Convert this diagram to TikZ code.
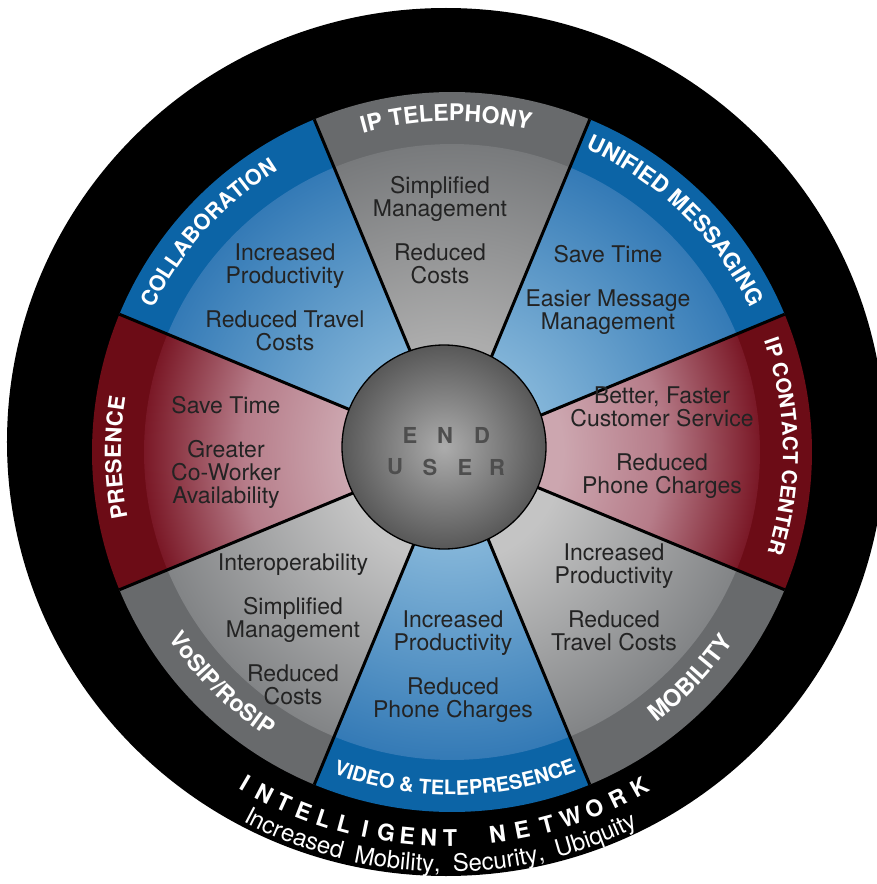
\documentclass[tikz,border=0pt]{standalone}
\usepackage{fontspec}
\setmainfont{TeX Gyre Heros}
\newfontfamily\ringfont[LetterSpace=24]{TeX Gyre Heros}
\usetikzlibrary{decorations.text}

\definecolor{blueband}{RGB}{12,100,166}
\definecolor{blueA}{RGB}{130,180,216}
\definecolor{blueB}{RGB}{52,122,182}
\definecolor{redband}{RGB}{108,12,22}
\definecolor{redA}{RGB}{204,166,175}
\definecolor{redM}{RGB}{182,124,137}
\definecolor{redB}{RGB}{122,24,38}
\definecolor{grayband}{RGB}{104,106,108}
\definecolor{grayA}{RGB}{196,196,196}
\definecolor{grayB}{RGB}{130,132,134}
\definecolor{grayAt}{RGB}{172,172,172}
\definecolor{grayBt}{RGB}{120,122,124}
\definecolor{sphA}{RGB}{172,172,172}
\definecolor{sphB}{RGB}{88,88,88}
\definecolor{bodytext}{RGB}{35,35,35}
\definecolor{endtext}{RGB}{78,78,78}

\pgfdeclareradialshading{blueshade}{\pgfpoint{0bp}{0bp}}{color(0bp)=(blueA); color(8bp)=(blueA); color(25bp)=(blueB); color(50bp)=(blueB)}
\pgfdeclareradialshading{redshade}{\pgfpoint{0bp}{0bp}}{color(0bp)=(redA); color(9bp)=(redA); color(17bp)=(redM); color(25bp)=(redB); color(50bp)=(redB)}
\pgfdeclareradialshading{grayshade}{\pgfpoint{0bp}{0bp}}{color(0bp)=(grayA); color(9bp)=(grayA); color(25bp)=(grayB); color(50bp)=(grayB)}
\pgfdeclareradialshading{grayshadet}{\pgfpoint{0bp}{0bp}}{color(0bp)=(grayAt); color(9bp)=(grayAt); color(25bp)=(grayBt); color(50bp)=(grayBt)}
\pgfdeclareradialshading{sphshade}{\pgfpoint{0bp}{0bp}}{color(0bp)=(sphA); color(25bp)=(sphB); color(50bp)=(sphB)}

\newcommand\lblf[1]{\fontsize{#1}{#1}\selectfont\bfseries}
\newcommand\bodyfnt{\fontsize{23}{23}\selectfont}

\begin{document}
\begin{tikzpicture}[x=1pt,y=1pt,
  body/.style={font=\bodyfnt, align=center, text=bodytext, inner sep=0pt},
  sepline/.style={line width=3pt, black},
  ringletter/.style={font=\fontsize{23}{23}\selectfont\bfseries, text=white, anchor=base, inner sep=0pt},
  endletter/.style={font=\fontsize{22}{22}\selectfont\bfseries, text=endtext, inner sep=0pt},
  lbl/.style={decorate, decoration={text along path, text align=center, text color=white}}]

\useasboundingbox (-452,-432) rectangle (424,452);
\fill[white] (-452,-432) rectangle (424,452);

% outer black ring
\fill[black] (-6,10) ellipse [x radius=439, y radius=434];

% sectors
\foreach \a/\bc/\sh in {90/grayband/grayshadet, 45/blueband/blueshade, 0/redband/redshade,
  -45/grayband/grayshade, -90/blueband/blueshade, -135/grayband/grayshade,
  180/redband/redshade, 135/blueband/blueshade}{
  \fill[\bc] (0,0) -- ({\a+22.5}:360) arc[start angle={\a+22.5}, end angle={\a-22.5}, radius=360] -- cycle;
  \begin{scope}
    \clip (0,0) -- ({\a+22.5}:308) arc[start angle={\a+22.5}, end angle={\a-22.5}, radius=308] -- cycle;
    \shade[shading=\sh] (0,0) circle (308);
  \end{scope}
}

% separators
\coordinate (ctr) at (0,0);
\foreach \a [count=\i] in {22.5,67.5,...,337.5}{
  \coordinate (s\i) at (\a:360);
  \draw[sepline] (ctr) -- (s\i);
}

% centre sphere
\node[circle, minimum size=204pt, inner sep=0pt] (hub) at (-8,5) {};
\shade[shading=sphshade] (hub.center) circle (102);
\draw[line width=1.3pt, black] (hub.center) circle (102);
\node[endletter] (e1) at (-42,17) {E};
\node[endletter] (e2) at (-7,17) {N};
\node[endletter] (e3) at (30,17) {D};
\node[endletter] (u1) at (-57,-15) {U};
\node[endletter] (u2) at (-22,-15) {S};
\node[endletter] (u3) at (13,-15) {E};
\node[endletter] (u4) at (45,-15) {R};

% band labels (top half: tops outward)
\path[lbl, decoration={text={|\lblf{23}|IP TELEPHONY}}] (131:331) arc[start angle=131, end angle=51, radius=331];
\path[lbl, decoration={text={|\lblf{22.5}|UNIFIED MESSAGING}}] (86:331) arc[start angle=86, end angle=6, radius=331];
\path[lbl, decoration={text={|\lblf{20.5}|IP CONTACT CENTER}}] (41:331) arc[start angle=41, end angle=-39, radius=331];
\path[lbl, decoration={text={|\lblf{22}|PRESENCE}}] (221:331) arc[start angle=221, end angle=141, radius=331];
\path[lbl, decoration={text={|\lblf{21.5}|COLLABORATION}}] (178:331) arc[start angle=178, end angle=98, radius=331];
% bottom half: tops inward
\path[lbl, decoration={text={|\lblf{20}|VIDEO {\&} TELEPRESENCE}}] (-129.5:343) arc[start angle=-129.5, end angle=-49.5, radius=343];
\path[lbl, decoration={text={|\lblf{23.5}|MOBILITY}}] (-83.5:339) arc[start angle=-83.5, end angle=-3.5, radius=339];
\path[lbl, decoration={text={|\lblf{23}|VoSIP/RoSIP}}] (-174.8:339) arc[start angle=-174.8, end angle=-94.8, radius=339];

% body texts
\node[body] (tel) at (-12,221.5) {Simplified\\Management\\[21pt]Reduced\\Costs};
\node[body] (um) at (156,162) {Save Time\\[21pt]Easier Message\\Management};
\node[body] (col) at (-167,154.5) {Increased\\Productivity\\[21pt]Reduced Travel\\Costs};
\node[body] (pre) at (-226,0) {Save Time\\[21pt]Greater\\Co-Worker\\Availability};
\node[body] (icc) at (210,9.5) {Better, Faster\\Customer Service\\[21pt]Reduced\\Phone Charges};
\node[body] (mob) at (162,-145) {Increased\\Productivity\\[21pt]Reduced\\Travel Costs};
\node[body] (vid) at (1,-215) {Increased\\Productivity\\[21pt]Reduced\\Phone Charges};
\node[body] (vos) at (-159,-177.5) {Interoperability\\[21pt]Simplified\\Management\\[21pt]Reduced\\Costs};

% outer ring texts
\begin{scope}[shift={(-6,10)}]
\foreach \a/\l in {-120.4/I,-117.3/N,-114.2/T,-111.1/E,-108.0/L,-104.9/L,-101.8/I,-98.7/G,-95.6/E,-92.5/N,-89.4/T,
  -82.5/N,-78.9/E,-75.2/T,-71.6/W,-68.0/O,-64.3/R,-60.7/K}{
  \node[ringletter, rotate=\a+90] at (\a:404) {\l};
}
\path[lbl, decoration={text={|\ringfont\fontsize{24}{24}\selectfont|Increased Mobility, Security, Ubiquity}}] (-130.8:430) arc[start angle=-130.8, end angle=-50.8, radius=430];
\end{scope}
\end{tikzpicture}
\end{document}
